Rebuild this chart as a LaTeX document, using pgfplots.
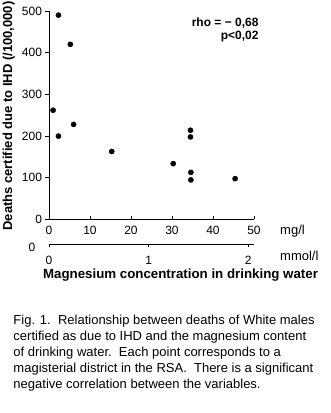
\documentclass[border=0pt]{standalone}
\usepackage{pgfplots}
\pgfplotsset{compat=1.18}
\usepackage{fontspec}
\setmainfont{Liberation Sans}
\begin{document}
\begin{tikzpicture}
\useasboundingbox (0bp,0bp) rectangle (331bp,413bp);
\begin{axis}[
  at={(49bp,193.5bp)}, anchor=south west,
  scale only axis, width=205bp, height=208.5bp,
  xmin=0, xmax=50, ymin=0, ymax=500,
  axis lines=left, axis line style={-, line width=0.8bp},
  xtick={0,10,...,50}, ytick={0,100,...,500},
  xtick align=inside, ytick align=outside,
  major tick length=3.5bp,
  tick style={black, line width=0.8bp},
  tick label style={font=\fontsize{12bp}{14bp}\selectfont},
  /pgf/number format/assume math mode=true,
  /pgf/number format/1000 sep={},
  xticklabel style={anchor=base, yshift=-15.2bp},
  clip=false,
]
\addplot[only marks, mark=*, mark size=2.6bp, black] coordinates {
(1.0,262) (2.3,490) (2.3,200) (5.2,420) (6.0,228) (15.3,163)
(30.3,134) (34.5,214) (34.5,198) (34.6,113) (34.6,95) (45.4,98)
};
\end{axis}
\begin{axis}[
  at={(49bp,169bp)}, anchor=south west,
  scale only axis, width=205bp, height=10bp,
  xmin=0, xmax=50, ymin=0, ymax=1,
  axis x line=bottom, axis y line=none, axis line style={-, line width=0.8bp},
  xtick={0,24.305,48.61}, xticklabels={0,1,2},
  xtick align=outside, major tick length=3.5bp,
  tick style={black, line width=0.8bp},
  ytick=\empty,
  tick label style={font=\fontsize{12bp}{14bp}\selectfont},
  xticklabel style={anchor=base, yshift=-16.7bp},
]
\addplot[draw=none] coordinates {(0,0)};
\end{axis}
\node[font=\bfseries\fontsize{13bp}{15bp}\selectfont, rotate=90, inner sep=0] at (8.7bp,297bp) {Deaths certified due to IHD (/100,000)};
\node[font=\bfseries\fontsize{13.3bp}{15bp}\selectfont, anchor=base, inner sep=0] at (180.5bp,134.7bp) {Magnesium concentration in drinking water};
\node[font=\bfseries\fontsize{12bp}{14bp}\selectfont, anchor=base east, inner sep=0] at (258.7bp,386bp) {rho = − 0,68};
\node[font=\bfseries\fontsize{12bp}{14bp}\selectfont, anchor=base east, inner sep=0] at (258.7bp,373bp) {p<0,02};
\node[font=\fontsize{12bp}{14bp}\selectfont, anchor=base, inner sep=0] at (32bp,161.3bp) {0};
\node[font=\fontsize{13bp}{15bp}\selectfont, anchor=base west, inner sep=0] at (280bp,178.3bp) {mg/l};
\node[font=\fontsize{13bp}{15bp}\selectfont, anchor=base west, inner sep=0] at (280bp,152.3bp) {mmol/l};
\begin{scope}[every node/.style={font=\fontsize{13bp}{15bp}\selectfont, anchor=base west, inner sep=0}]
\node at (13.3bp,88.7bp) {Fig. 1.\ \ Relationship between deaths of White males};
\node at (13.3bp,72.7bp) {certified as due to IHD and the magnesium content};
\node at (13.3bp,56.7bp) {of drinking water.\ \ Each point corresponds to a};
\node at (13.3bp,40.7bp) {magisterial district in the RSA.\ \ There is a significant};
\node at (13.3bp,24.7bp) {negative correlation between the variables.};
\end{scope}
\end{tikzpicture}
\end{document}
